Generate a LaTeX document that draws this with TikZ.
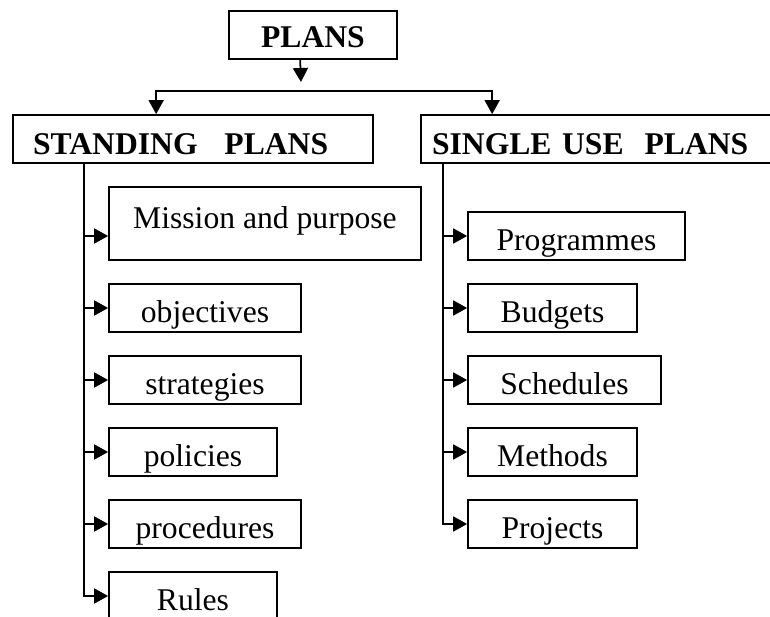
\documentclass[tikz,border=0pt]{standalone}
\usepackage{fontspec}
\setmainfont{Liberation Serif}
\usetikzlibrary{arrows.meta,calc}
\tikzset{
  every picture/.style={line join=miter, >={Triangle[length=0.28cm,width=0.3cm]}},
  box/.style={draw, line width=1pt, inner sep=0pt, font=\fontsize{18}{20}\selectfont,
    minimum height=0.96cm, text height=0.78cm, text depth=0.18cm},
  head/.style={box, font=\fontsize{18}{20}\selectfont\bfseries},
  link/.style={->, line width=1pt},
}
\begin{document}
\begin{tikzpicture}[x=0.02cm,y=-0.02cm]
\clip (0,0) rectangle (770,617);
% headings
\node[head,minimum width=3.36cm,text height=0.74cm,text depth=0.22cm] (plans) at (313,35) {PLANS};
\node[head,text width=6.4cm,inner xsep=0.4cm,align=left,text height=0.8cm,text depth=0.16cm] (std) at (193,139) {STANDING\hspace{0.85em}PLANS};
\node[head,text width=6.68cm,inner xsep=0.22cm,align=left,text height=0.8cm,text depth=0.16cm] (sgl) at (599,139) {SINGLE USE\ \ PLANS};
% standing plans
\node[box,minimum width=6.24cm,minimum height=1.46cm,text height=0.84cm,text depth=0.62cm] (mis) at (265,223.5) {Mission and purpose};
\node[box,minimum width=3.84cm] (obj) at (205,308) {objectives};
\node[box,minimum width=3.84cm] (str) at (205,380) {strategies};
\node[box,minimum width=3.36cm] (pol) at (193,452) {policies};
\node[box,minimum width=3.84cm] (pro) at (205,524) {procedures};
\node[box,minimum width=3.36cm] (rul) at (193,596) {Rules};
% single use plans
\node[box,minimum width=4.34cm] (prg) at (576.5,236) {Programmes};
\node[box,minimum width=3.38cm] (bud) at (552.5,308) {Budgets};
\node[box,minimum width=3.86cm] (sch) at (564.5,380) {Schedules};
\node[box,minimum width=3.38cm] (met) at (552.5,452) {Methods};
\node[box,minimum width=3.38cm] (prj) at (552.5,524) {Projects};
% connectors
\coordinate (pin) at (301,82);
\coordinate (bar) at (301,91);
\draw[link] ($(plans.south west)+(72,0)$) -- (pin);
\draw[link] (bar) -| ($(std.north west)+(144,0)$);
\draw[link] (bar) -| ($(sgl.north west)+(72,0)$);
\coordinate (st) at ($(std.south west)+(72,0)$);
\coordinate (sg) at ($(sgl.south west)+(23,0)$);
\coordinate (misin) at ($(mis.west)+(0,12.5)$);
\draw[link] (st) |- (rul.west);
\foreach \n in {misin,obj.west,str.west,pol.west,pro.west} \draw[link] (st |- \n) -- (\n);
\draw[link] (sg) |- (prj.west);
\foreach \n in {prg,bud,sch,met} \draw[link] (sg |- \n.west) -- (\n.west);
\end{tikzpicture}
\end{document}
